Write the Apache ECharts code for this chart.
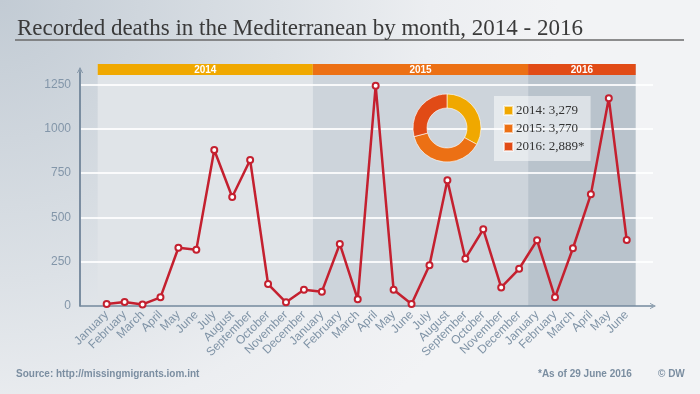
<!DOCTYPE html>
<html>
<head>
<meta charset="utf-8">
<script src="https://cdn.jsdelivr.net/npm/echarts@6/dist/echarts.min.js"></script>
<style>
html,body{margin:0;padding:0;}
body{width:700px;height:394px;background:radial-gradient(circle at 0 0,#c2cbd4 0px,#dce1e6 280px,#eceef1 430px,#f2f3f5 560px);}
#c{width:700px;height:394px;}
</style>
</head>
<body>
<div id="c"></div>
<script>
const months = ['January','February','March','April','May','June','July','August','September','October','November','December',
  'January','February','March','April','May','June','July','August','September','October','November','December',
  'January','February','March','April','May','June'];
const deaths = [11,23,9,49,329,318,880,615,824,124,21,92,
  81,350,38,1243,92,11,230,709,267,433,105,210,
  371,49,326,630,1172,372];
const yearNames = ['2014','2015','2016'];
const yearStart = [0,12,24];
const yearEnd = [11,23,29];
const yearTotals = [3279,3770,2889];
const yearTotalLabels = ['3,279','3,770','2,889*'];
const headerColors = ['#f0a800','#ec7014','#e14b16'];
const bandColors = ['#e0e4e8','#cdd4db','#b9c3cc'];
const yTicks = [0,250,500,750,1000,1250];

const chart = echarts.init(document.getElementById('c'), null, {renderer:'canvas'});
const chevron = 'path://M0,10 L5,0 L10,10 L8.6,10 L5,2.8 L1.4,10 Z';
const axisColor = '#74899d';
const yMax0 = 1331.8;

chart.setOption({
  backgroundColor: 'transparent',
  animation: false,
  title: {
    text: 'Recorded deaths in the Mediterranean by month, 2014 - 2016',
    left: 12, top: 12,
    textStyle: {fontFamily: '"Liberation Serif", serif', fontSize: 23, fontWeight: 'normal', color: '#3a3a3a'}
  },
  graphic: [
    {id:'rule', type:'line', shape:{x1:15, y1:40, x2:684, y2:40}, style:{stroke:'#6a6a6a', lineWidth:1.5}},
    {id:'src', type:'text', left:16, top:369, style:{text:'Source: http://missingmigrants.iom.int', font:'bold 10px "Liberation Sans", Arial', fill:'#7b8ea1'}},
    {id:'asof', type:'text', left:538, top:369, style:{text:'*As of 29 June 2016', font:'bold 10px "Liberation Sans", Arial', fill:'#7b8ea1'}},
    {id:'dw', type:'text', left:658, top:369, style:{text:'\u00a9 DW', font:'bold 10px "Liberation Sans", Arial', fill:'#7b8ea1'}}
  ],
  legend: {
    orient: 'vertical', left: 494, top: 96, z: 9,
    backgroundColor: 'rgba(255,255,255,0.5)',
    padding: [8, 6, 8, 9],
    itemWidth: 9, itemHeight: 9, itemGap: 5, icon: 'rect',
    data: yearNames,
    formatter: function(name){ return name + ': ' + yearTotalLabels[yearNames.indexOf(name)]; },
    textStyle: {fontFamily: '"Liberation Serif", serif', fontSize: 13, color: '#333', lineHeight: 13, padding:[0,0,0,-2]}
  },
  grid: [
    {left: 80, right: 47, top: 70, bottom: 88},
    {left: 97.7, right: 64.3, top: 64, bottom: 88}
  ],
  xAxis: [
    {gridIndex:0, type:'value', min:0, max:1, interval:1, show:true, z:3, position:'bottom',
      axisLine:{show:true, onZero:false, lineStyle:{color:axisColor, width:1.5}, symbol:['none', chevron], symbolSize:[9,6]},
      axisTick:{show:false}, axisLabel:{show:false},
      splitLine:{show:false}},
    {gridIndex:1, type:'category', data: months, boundaryGap:true,
      axisLine:{show:false}, axisTick:{show:false},
      axisLabel:{rotate:45, interval:0, margin:7, color:'#7f93a6', fontSize:12, fontFamily:'"Liberation Sans", Arial'}}
  ],
  yAxis: [
    {gridIndex:0, type:'value', min:0, max:yMax0, interval:250, z:3, position:'left',
      axisLine:{show:true, onZero:false, lineStyle:{color:axisColor, width:1.5}, symbol:['none', chevron], symbolSize:[9,6]},
      axisTick:{show:false},
      axisLabel:{showMaxLabel:false, margin:9, color:'#8396a9', fontSize:12, fontFamily:'"Liberation Sans", Arial',
        formatter: function(v){ return yTicks.indexOf(v) >= 0 ? String(v) : ''; }},
      splitLine:{show:true, showMinLine:false, showMaxLine:false, lineStyle:{color:'rgba(255,255,255,0.85)', width:2}}},
    {gridIndex:1, type:'value', min:0, max:1365.7, show:false, splitLine:{show:false}}
  ],
  series: [
    {
      type:'custom', xAxisIndex:1, yAxisIndex:1, z:1, silent:true,
      data: yearNames.map(function(n,i){ return [yearStart[i], yearEnd[i]]; }),
      encode:{x:[0,1]},
      renderItem: function(params, api){
        const idx = params.dataIndex;
        const w = api.size([1,0])[0];
        const p0 = api.coord([api.value(0), 0]);
        const p1 = api.coord([api.value(1), 0]);
        const x0 = p0[0] - w/2, x1 = p1[0] + w/2;
        const top = params.coordSys.y;
        const bottom = p0[1];
        return {type:'group', children:[
          {type:'rect', shape:{x:x0, y:top, width:x1-x0, height:bottom-top}, style:{fill:bandColors[idx]}},
          {type:'rect', shape:{x:x0, y:top, width:x1-x0, height:11}, style:{fill:headerColors[idx]}},
          {type:'text', style:{text:yearNames[idx], x:(x0+x1)/2, y:top+6, align:'center', verticalAlign:'middle',
            fill:'#fff', font:'bold 10px "Liberation Sans", Arial'}}
        ]};
      }
    },
    {
      type:'line', xAxisIndex:1, yAxisIndex:1, z:7,
      data: deaths,
      symbol:'circle', symbolSize:6, showSymbol:true,
      lineStyle:{color:'#c4202f', width:2.5},
      itemStyle:{color:'#ffffff', borderColor:'#c4202f', borderWidth:2}
    },
    {
      type:'pie', z:8, center:[447,128], radius:[20,34], startAngle:90, clockwise:true,
      label:{show:false}, labelLine:{show:false}, silent:true,
      itemStyle:{borderColor:'rgba(255,255,255,0.6)', borderWidth:1},
      data: yearNames.map(function(n,i){ return {name:n, value:yearTotals[i], itemStyle:{color:headerColors[i]}}; })
    }
  ]
});

// Vertical axis line placed through the library's own coordinate conversion
const pBottom = chart.convertToPixel({xAxisIndex:0, yAxisIndex:0}, [0, 0]);
const pTop = chart.convertToPixel({xAxisIndex:0, yAxisIndex:0}, [0, yMax0]);
if (pBottom && pTop) {
  chart.setOption({graphic:[{id:'yline', type:'line', z:10,
    shape:{x1:pBottom[0], y1:pBottom[1], x2:pTop[0], y2:pTop[1] + 2},
    style:{stroke:axisColor, lineWidth:1.5}}]});
}
</script>
</body>
</html>
